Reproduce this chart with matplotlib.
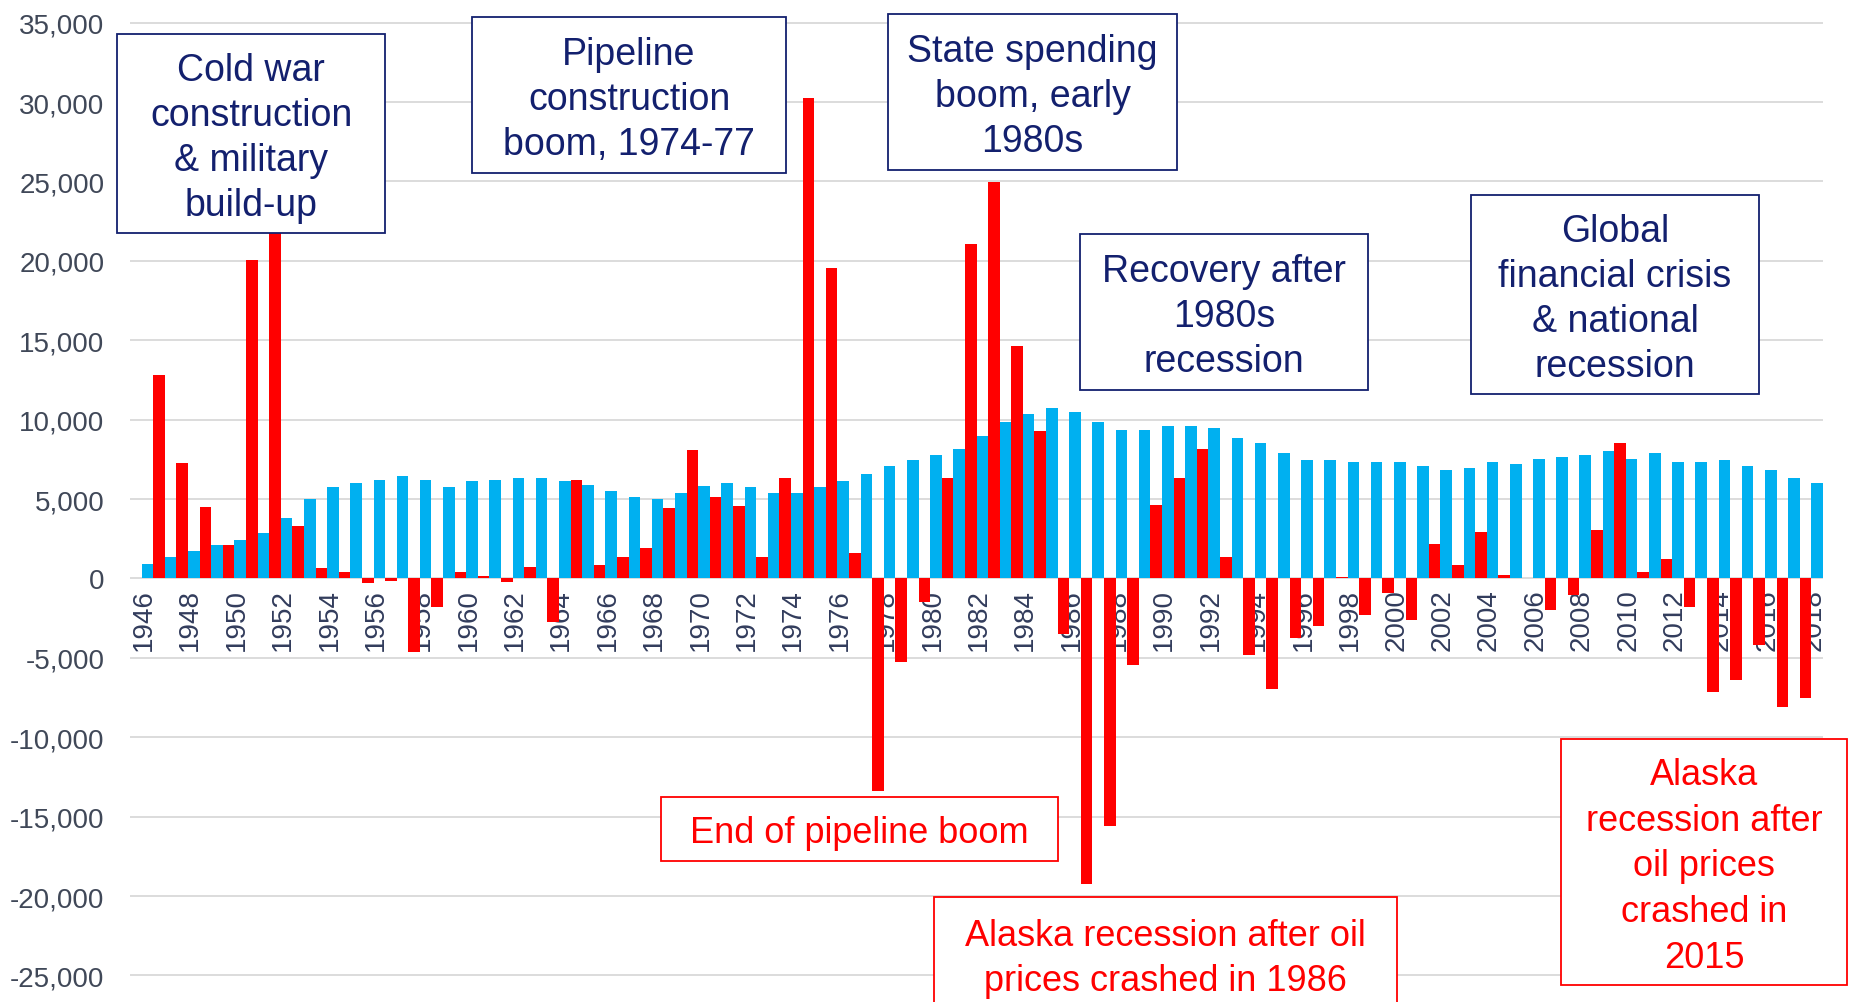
import numpy as np
import matplotlib
matplotlib.use("Agg")
from matplotlib import pyplot as plt
from matplotlib.patches import Rectangle

# Alaska population change by year
years = list(range(1946, 2019))
natural_increase = [
    880, 1365, 1720, 2100, 2440, 2840, 3800, 5020, 5730, 5985,
    6220, 6470, 6220, 5730, 6110, 6220, 6340, 6340, 6110, 5860,
    5480, 5100, 5000, 5355, 5840, 5985, 5730, 5355, 5355, 5730,
    6110, 6570, 7060, 7430, 7790, 8170, 8990, 9870, 10340, 10710,
    10460, 9870, 9370, 9370, 9620, 9620, 9490, 8860, 8530, 7920,
    7430, 7430, 7310, 7310, 7310, 7060, 6830, 6950, 7310, 7180,
    7540, 7665, 7790, 8040, 7540, 7920, 7310, 7310, 7430, 7060,
    6830, 6340, 5985,
]
net_migration = [
    np.nan, 12790, 7300, 4500, 2100, 20050, 25000, 3320, 630, 400,
    -300, -150, -4660, -1790, 380, 150, -210, 735, -2770, 6220,
    860, 1365, 1950, 4410, 8060, 5150, 4540, 1365, 6340, 30260,
    19550, 1620, -13380, -5290, -1470, 6340, 21040, 24980, 14650, 9260,
    -3510, -19260, -15610, -5440, 4640, 6340, 8150, 1365, -4830, -6970,
    -3780, -3020, 100, -2270, -920, -2630, 2200, 860, 2940, 230,
    0, -2000, -1030, 3070, 8530, 380, 1220, -1790, -7140, -6390,
    -4200, -8090, -7500,
]
y_ticks = list(range(-25000, 35001, 5000))

# annotation boxes: text, left, top, right, bottom (pixels), style
notes = [
    ("Cold war\nconstruction\n& military\nbuild-up", 117, 35, 385, 234, "navy"),
    ("Pipeline\nconstruction\nboom, 1974-77", 472, 18, 786, 174, "navy"),
    ("State spending\nboom, early\n1980s", 888, 15, 1177, 171, "navy"),
    ("Recovery after\n1980s\nrecession", 1080, 235, 1368, 391, "navy"),
    ("Global\nfinancial crisis\n& national\nrecession", 1471, 196, 1759, 395, "navy"),
    ("End of pipeline boom", 661, 798, 1058, 862, "red"),
    ("Alaska recession after oil\nprices crashed in 1986", 934, 898, 1397, 1012, "red"),
    ("Alaska\nrecession after\noil prices\ncrashed in\n2015", 1561, 740, 1847, 986, "red"),
]

W, H = 1851, 1003
fig = plt.figure(figsize=(W / 100, H / 100), dpi=100)
ax = fig.add_axes([130 / W, 0, (1823 - 130) / W, 1])

x = np.arange(len(years))
ax.bar(x - 0.25, net_migration, width=0.5, color="#ff0000", zorder=3)
ax.bar(x + 0.25, natural_increase, width=0.5, color="#00b0f0", zorder=3)

ax.set_xlim(-0.5, len(years) - 0.5)
ax.set_ylim(-26670, 36490)

# x labels sit on the zero line
ax.spines["bottom"].set_position(("data", 0))
for s in ax.spines.values():
    s.set_visible(False)

ax.set_yticks(y_ticks)
ax.set_yticklabels([f"{v:,}" for v in y_ticks])
ax.set_xticks(x[::2] + 0.1)
ax.set_xticklabels([str(y) for y in years[::2]])
ax.tick_params(axis="y", length=0, pad=18.5, labelsize=20, labelcolor="#404858")
ax.tick_params(axis="x", length=0, pad=7, labelsize=20, labelcolor="#323c5c",
               labelrotation=90)
for lab in ax.get_xticklabels() + ax.get_yticklabels():
    lab.set_family("Liberation Sans")
ax.yaxis.grid(True, color="#d9d9d9", linewidth=1.3)
ax.set_axisbelow(False)

for text, x0, y0, x1, y1, kind in notes:
    col = "#13206e" if kind == "navy" else "#ff0000"
    fig.add_artist(Rectangle((x0 / W, 1 - y1 / H), (x1 - x0) / W, (y1 - y0) / H,
                             transform=fig.transFigure, facecolor="white",
                             edgecolor=col, linewidth=1.3, zorder=4))
    cx, cy = (x0 + x1) / 2 / W, 1 - ((y0 + y1) / 2 + 4) / H
    if kind == "navy":
        fig.text(cx, cy, text, ha="center", va="center", color=col, fontsize=27,
                 family="Liberation Sans", linespacing=1.32, zorder=5)
    else:
        fig.text(cx, cy, text, ha="center", va="center", color=col, fontsize=26,
                 family="Liberation Sans", linespacing=1.39, zorder=5)

fig.savefig("out.png", dpi=100, facecolor="white")
